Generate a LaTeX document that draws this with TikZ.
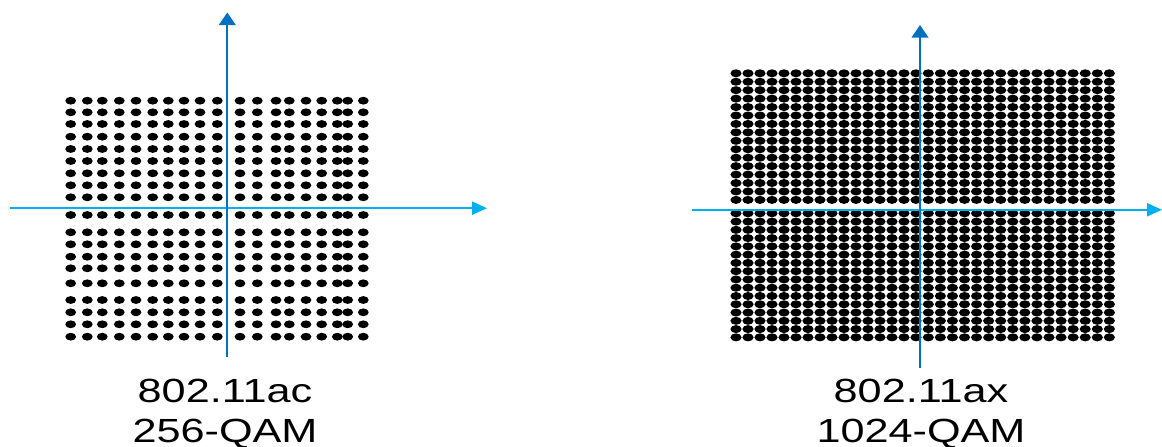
\documentclass[tikz,border=0pt]{standalone}
\usepackage{fontspec}
\setmainfont{Liberation Sans}
\usetikzlibrary{arrows.meta}
\definecolor{axisdark}{HTML}{0070C0}
\definecolor{axislight}{HTML}{00B0F0}
\begin{document}
\begin{tikzpicture}[x=1pt,y=-1pt,
  qdot/.style={fill=black},
  vaxis/.style={draw=axisdark, line width=2pt, -{Triangle[length=12.5pt,width=16.5pt]}},
  haxis/.style={draw=axislight, line width=2pt, -{Triangle[length=15pt,width=13pt]}},
  lbl/.style={font=\fontsize{33.5}{40}\selectfont, inner sep=0pt, anchor=base}
]
\useasboundingbox (0,0) rectangle (1162,447);

% 802.11ac constellation
\foreach \x in {70.7,87.3,102.3,119.3,136,152.7,168.3,184,200,217.3,240,257.3,276,289.3,306,321.7,337.3,347.7,363.3}{
  \foreach \y in {100.7,112.3,124,136.7,149,161,173.3,185.3,197.3,215,232.3,244.3,256.7,268.3,283.3,300,312.3,324.3,336.7}{
    \fill[qdot] (\x,\y) ellipse [x radius=5.4pt, y radius=3.9pt];
  }
}

% 802.11ax constellation
\foreach \i in {0,...,15}{
  \foreach \j in {0,...,15}{
    \fill[qdot] ({736+12*\i},{73.3+8.44*\j}) ellipse [x radius=5.6pt, y radius=4pt];
    \fill[qdot] ({928.3+12.07*\i},{73.3+8.44*\j}) ellipse [x radius=5.6pt, y radius=4pt];
    \fill[qdot] ({736+12*\i},{213.3+8.27*\j}) ellipse [x radius=5.6pt, y radius=4pt];
    \fill[qdot] ({928.3+12.07*\i},{213.3+8.27*\j}) ellipse [x radius=5.6pt, y radius=4pt];
  }
}

% axes
\coordinate (l-vs) at (227.3,357);
\coordinate (l-ve) at (227.3,12.5);
\coordinate (l-hs) at (10,208.2);
\coordinate (l-he) at (487,208.2);
\coordinate (r-vs) at (920,368);
\coordinate (r-ve) at (920,25);
\coordinate (r-hs) at (692,209.8);
\coordinate (r-he) at (1162,209.8);
\draw[haxis] (l-hs) -- (l-he);
\draw[vaxis] (l-vs) -- (l-ve);
\draw[haxis] (r-hs) -- (r-he);
\draw[vaxis] (r-vs) -- (r-ve);

% labels
\node[lbl] (l-t1) at (225,402.3) {\scalebox{1.29}[1]{802.11ac}};
\node[lbl] (l-t2) at (225,442.5) {\scalebox{1.29}[1]{256-QAM}};
\node[lbl] (r-t1) at (921,402.3) {\scalebox{1.29}[1]{802.11ax}};
\node[lbl] (r-t2) at (921,442.5) {\scalebox{1.29}[1]{1024-QAM}};
\end{tikzpicture}
\end{document}
